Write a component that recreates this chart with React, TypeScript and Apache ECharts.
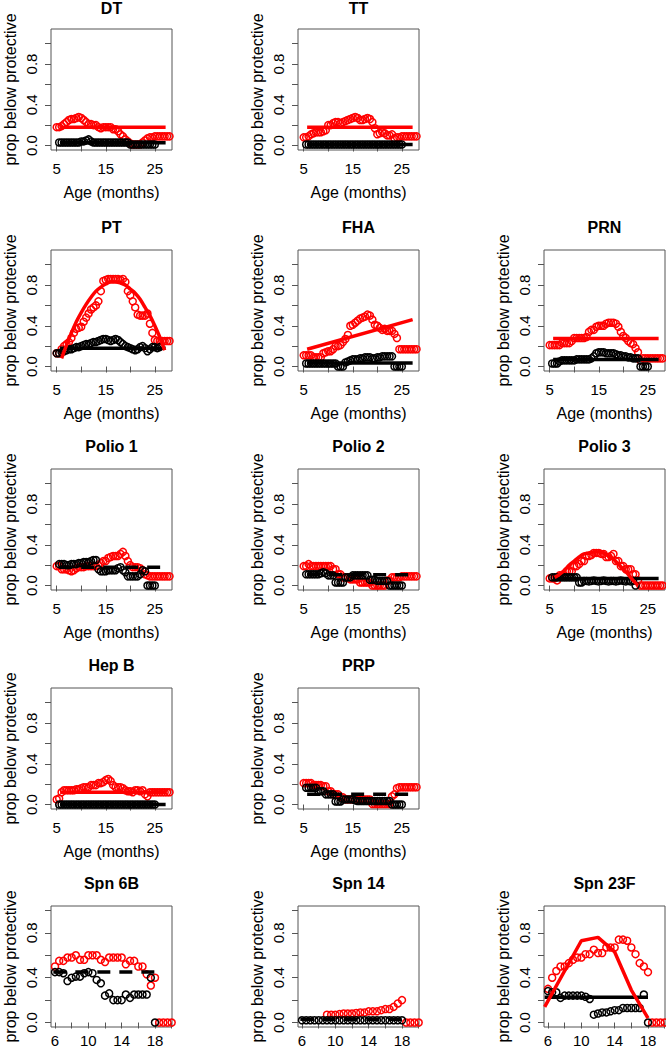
import React, { useEffect, useRef } from "react";
import * as echarts from "echarts";

const _ = null;

// Age grids (months) at which the running proportions were read
const AGES = [5, 5.5, 6, 6.5, 7, 7.5, 8, 8.5, 9, 9.5, 10, 10.5, 11, 11.5, 12, 12.5, 13, 13.5, 14, 14.5, 15, 15.5, 16, 16.5, 17, 17.5, 18, 18.5, 19, 19.5, 20, 20.5, 21, 21.5, 22, 22.5, 23, 23.5, 24, 24.5, 25, 25.5, 26, 26.5, 27, 27.5, 28];
const SPN_AGES = [5.5, 6, 6.5, 7, 7.5, 8, 8.5, 9, 9.5, 10, 10.5, 11, 11.5, 12, 12.5, 13, 13.5, 14, 14.5, 15, 15.5, 16, 16.5, 17, 17.5, 18, 18.5, 19, 19.5, 20];

// Tick values
const AGE_TICKS = [5, 10, 15, 20, 25];
const AGE_LABELS = [5, 15, 25];
const SPN_TICKS = [6, 8, 10, 12, 14, 16, 18, 20];
const SPN_LABELS = [6, 10, 14, 18];
const PROP_TICKS = [0, 0.2, 0.4, 0.6, 0.8, 1.0];
const PROP_LABELS = [0, 0.4, 0.8];

// Panel data (red = one group, black = other group)
const DT_RED = [0.18, 0.18, 0.19, 0.21, 0.23, 0.25, 0.26, 0.26, 0.27, 0.28, 0.27, 0.25, 0.23, 0.21, 0.21, 0.20, 0.20, 0.18, 0.17, 0.18, 0.18, 0.18, 0.18, 0.16, 0.16, 0.14, 0.11, 0.09, 0.06, 0.04, 0.02, 0.01, 0.01, 0.01, 0.01, 0.03, 0.05, 0.07, 0.08, 0.08, 0.09, 0.09, 0.09, 0.09, 0.09, 0.09, 0.09];
const DT_BLACK = [_, 0.03, 0.03, 0.03, 0.03, 0.03, 0.03, 0.03, 0.03, 0.03, 0.04, 0.04, 0.05, 0.06, 0.04, 0.03, 0.03, 0.03, 0.03, 0.03, 0.03, 0.03, 0.03, 0.03, 0.03, 0.03, 0.03, 0.03, 0.03, 0.03, 0.01, 0.01, 0.01, 0.01, 0.01, 0.01, 0.01, 0.01, 0.01, 0.01, 0.01, _, _, _, _, _, _];
const TT_RED = [0.08, 0.08, 0.09, 0.11, 0.12, 0.13, 0.13, 0.13, 0.14, 0.15, 0.20, 0.20, 0.22, 0.23, 0.23, 0.22, 0.23, 0.24, 0.25, 0.26, 0.27, 0.28, 0.27, 0.25, 0.25, 0.26, 0.27, 0.26, 0.23, 0.17, 0.11, 0.12, 0.13, 0.12, 0.10, 0.10, 0.11, 0.07, 0.08, 0.08, 0.09, 0.09, 0.09, 0.09, 0.09, 0.09, 0.09];
const TT_BLACK = [_, 0.01, 0.01, 0.01, 0.01, 0.01, 0.01, 0.01, 0.01, 0.01, 0.01, 0.01, 0.01, 0.01, 0.01, 0.01, 0.01, 0.01, 0.01, 0.01, 0.01, 0.01, 0.01, 0.01, 0.01, 0.01, 0.01, 0.01, 0.01, 0.01, 0.01, 0.01, 0.01, 0.01, 0.01, 0.01, 0.01, 0.01, 0.01, 0.01, 0.01, _, _, _, _, _, _];
const PT_RED = [0.13, 0.13, 0.17, 0.20, 0.22, 0.24, 0.28, 0.33, 0.37, 0.38, 0.39, 0.44, 0.48, 0.52, 0.56, 0.58, 0.60, 0.64, 0.74, 0.84, 0.85, 0.86, 0.86, 0.86, 0.86, 0.86, 0.85, 0.86, 0.83, 0.74, 0.70, 0.64, 0.58, 0.51, 0.50, 0.50, 0.50, 0.52, 0.42, 0.33, 0.26, 0.25, 0.25, 0.25, 0.25, 0.25, 0.25];
const PT_BLACK = [0.13, 0.13, 0.14, 0.15, 0.16, 0.17, 0.17, 0.18, 0.19, 0.19, 0.20, 0.21, 0.22, 0.22, 0.23, 0.24, 0.24, 0.25, 0.26, 0.27, 0.27, 0.26, 0.25, 0.26, 0.27, 0.26, 0.24, 0.22, 0.20, 0.19, 0.18, 0.17, 0.16, 0.17, 0.19, 0.20, 0.18, 0.15, 0.17, 0.19, 0.19, 0.18, 0.19, _, _, _, _];
const FHA_RED = [0.11, 0.11, 0.11, 0.11, 0.09, 0.09, 0.09, 0.09, 0.13, 0.14, 0.15, 0.15, 0.17, 0.20, 0.20, 0.21, 0.24, 0.27, 0.31, 0.40, 0.41, 0.43, 0.45, 0.47, 0.48, 0.49, 0.51, 0.50, 0.46, 0.41, 0.40, 0.38, 0.36, 0.37, 0.35, 0.35, 0.35, 0.32, 0.28, 0.17, 0.17, 0.17, 0.17, 0.17, 0.17, 0.17, 0.17];
const FHA_BLACK = [_, 0.03, 0.03, 0.03, 0.03, 0.03, 0.03, 0.03, 0.03, 0.03, 0.03, 0.03, 0.03, 0.03, 0.0, 0.0, 0.0, 0.04, 0.05, 0.06, 0.07, 0.07, 0.07, 0.08, 0.08, 0.09, 0.09, 0.09, 0.08, 0.08, 0.09, 0.09, 0.10, 0.10, 0.10, 0.10, 0.10, 0.0, 0.0, 0.0, 0.0, _, _, _, _, _, _];
const PRN_RED = [0.21, 0.21, 0.21, 0.21, 0.21, 0.23, 0.23, 0.23, 0.23, 0.25, 0.28, 0.28, 0.28, 0.28, 0.28, 0.29, 0.34, 0.36, 0.36, 0.39, 0.40, 0.40, 0.40, 0.42, 0.43, 0.43, 0.43, 0.42, 0.39, 0.34, 0.30, 0.28, 0.25, 0.23, 0.22, 0.18, 0.14, 0.06, 0.08, 0.08, 0.08, 0.08, 0.08, 0.08, 0.08, 0.08, 0.08];
const PRN_BLACK = [_, 0.03, 0.03, 0.03, 0.05, 0.06, 0.06, 0.06, 0.06, 0.06, 0.06, 0.07, 0.07, 0.07, 0.07, 0.07, 0.07, 0.08, 0.10, 0.13, 0.14, 0.14, 0.14, 0.13, 0.13, 0.13, 0.13, 0.12, 0.11, 0.11, 0.10, 0.10, 0.09, 0.09, 0.08, 0.08, 0.08, 0.0, 0.0, 0.0, 0.0, _, _, _, _, _, _];
const POLIO1_RED = [0.19, 0.19, 0.16, 0.16, 0.16, 0.15, 0.14, 0.15, 0.17, 0.18, 0.18, 0.18, 0.19, 0.19, 0.19, 0.19, 0.19, 0.20, 0.22, 0.24, 0.24, 0.27, 0.28, 0.29, 0.29, 0.29, 0.31, 0.33, 0.29, 0.24, 0.20, 0.18, 0.18, 0.18, 0.17, 0.15, 0.11, 0.10, 0.09, 0.09, 0.09, 0.09, 0.09, 0.09, 0.09, 0.09, 0.09];
const POLIO1_BLACK = [_, 0.21, 0.21, 0.21, 0.20, 0.20, 0.21, 0.21, 0.21, 0.22, 0.22, 0.23, 0.23, 0.23, 0.24, 0.25, 0.25, 0.16, 0.14, 0.14, 0.14, 0.15, 0.15, 0.15, 0.15, 0.17, 0.18, 0.15, 0.13, 0.09, 0.09, 0.09, 0.09, 0.09, 0.11, 0.15, 0.14, 0.0, 0.0, 0.0, 0.0, _, _, _, _, _, _];
const POLIO2_RED = [0.19, 0.19, 0.21, 0.19, 0.19, 0.19, 0.19, 0.19, 0.19, 0.19, 0.19, 0.19, 0.16, 0.16, 0.11, 0.11, 0.08, 0.08, 0.08, 0.06, 0.06, 0.06, 0.06, 0.03, 0.03, 0.03, 0.03, 0.03, 0.0, 0.0, 0.0, 0.0, 0.0, 0.0, 0.05, 0.05, 0.08, 0.08, 0.08, 0.08, 0.09, 0.09, 0.09, 0.09, 0.09, 0.09, 0.09];
const POLIO2_BLACK = [_, 0.11, 0.11, 0.11, 0.11, 0.11, 0.11, 0.12, 0.13, 0.12, 0.10, 0.10, 0.10, 0.03, 0.03, 0.03, 0.03, 0.08, 0.08, 0.08, 0.10, 0.10, 0.10, 0.10, 0.10, 0.10, 0.10, 0.055, 0.055, 0.055, 0.045, 0.045, 0.045, 0.045, 0.045, 0.0, 0.0, 0.0, 0.0, 0.0, 0.0, _, _, _, _, _, _];
const POLIO3_RED = [0.07, 0.07, 0.07, 0.05, 0.10, 0.10, 0.10, 0.14, 0.14, 0.14, 0.19, 0.19, 0.21, 0.24, 0.24, 0.29, 0.29, 0.30, 0.32, 0.32, 0.32, 0.31, 0.31, 0.28, 0.28, 0.29, 0.31, 0.24, 0.24, 0.19, 0.19, 0.16, 0.16, 0.16, 0.11, 0.11, 0.05, 0.0, 0.0, 0.0, 0.0, 0.0, 0.0, 0.0, 0.0, 0.0, 0.0];
const POLIO3_BLACK = [_, 0.08, 0.08, 0.08, 0.08, 0.08, 0.08, 0.08, 0.08, 0.08, 0.08, 0.08, 0.03, 0.03, 0.045, 0.045, 0.04, 0.045, 0.05, 0.045, 0.04, 0.045, 0.05, 0.045, 0.04, 0.045, 0.045, 0.04, 0.045, 0.05, 0.045, 0.04, 0.045, 0.04, 0.045, 0.0, _, _, _, _, _, _, _, _, _, _, _];
const HEPB_RED = [0.05, 0.06, 0.12, 0.14, 0.14, 0.14, 0.14, 0.14, 0.15, 0.15, 0.16, 0.17, 0.17, 0.17, 0.19, 0.19, 0.19, 0.21, 0.21, 0.22, 0.24, 0.25, 0.23, 0.19, 0.17, 0.17, 0.17, 0.16, 0.14, 0.13, 0.13, 0.12, 0.14, 0.14, 0.13, 0.14, 0.10, 0.08, 0.12, 0.12, 0.12, 0.12, 0.12, 0.12, 0.12, 0.12, 0.12];
const HEPB_BLACK = [_, 0, 0, 0, 0, 0, 0, 0, 0, 0, 0, 0, 0, 0, 0, 0, 0, 0, 0, 0, 0, 0, 0, 0, 0, 0, 0, 0, 0, 0, 0, 0, 0, 0, 0, 0, 0, 0, 0, 0, 0, _, _, _, _, _, _];
const PRP_RED = [0.21, 0.21, 0.21, 0.21, 0.19, 0.19, 0.19, 0.19, 0.18, 0.18, 0.13, 0.13, 0.10, 0.10, 0.10, 0.07, 0.07, 0.05, 0.05, 0.05, 0.05, 0.05, 0.05, 0.05, 0.05, 0.05, 0.05, 0.05, 0.005, 0.005, 0.005, 0.005, 0.005, 0.005, 0.005, 0.005, 0.08, 0.10, 0.16, 0.17, 0.17, 0.17, 0.17, 0.17, 0.17, 0.17, 0.17];
const PRP_BLACK = [_, 0.165, 0.165, 0.165, 0.165, 0.165, 0.13, 0.13, 0.13, 0.10, 0.10, 0.10, 0.10, 0.03, 0.03, 0.03, 0.05, 0.05, 0.05, 0.05, 0.05, 0.04, 0.035, 0.035, 0.035, 0.035, 0.035, 0.035, 0.035, 0.035, 0.035, 0.035, 0.035, 0.035, 0.035, 0.035, 0.0, 0.0, 0.0, 0.0, 0.0, _, _, _, _, _, _];
const SPN6B_RED = [0.43, 0.50, 0.55, 0.55, 0.58, 0.58, 0.60, 0.56, 0.56, 0.60, 0.60, 0.60, 0.56, 0.54, 0.58, 0.58, 0.58, 0.58, 0.52, 0.55, 0.55, 0.50, 0.50, 0.43, 0.33, 0.40, 0.0, 0.0, 0.0, 0.0];
const SPN6B_BLACK = [_, 0.45, 0.45, 0.44, 0.37, 0.40, 0.41, 0.41, 0.44, 0.45, 0.44, 0.38, 0.35, 0.24, 0.26, 0.20, 0.20, 0.20, 0.25, 0.22, 0.25, 0.25, 0.25, 0.25, 0.40, 0.0, _, _, _, _];
const SPN14_RED = [_, _, _, _, _, _, _, 0.07, 0.07, 0.07, 0.075, 0.08, 0.08, 0.08, 0.085, 0.09, 0.09, 0.10, 0.10, 0.10, 0.11, 0.12, 0.12, 0.14, 0.17, 0.20, 0.0, 0.0, 0.0, 0.0];
const SPN14_BLACK = [_, 0.02, 0.02, 0.02, 0.02, 0.02, 0.02, 0.02, 0.02, 0.02, 0.02, 0.02, 0.02, 0.02, 0.02, 0.02, 0.02, 0.02, 0.02, 0.02, 0.02, 0.02, 0.02, 0.02, 0.02, 0.02, _, _, _, _];
const SPN23F_RED = [0.14, 0.30, 0.40, 0.46, 0.50, 0.50, 0.53, 0.56, 0.58, 0.58, 0.61, 0.61, 0.65, 0.62, 0.62, 0.67, 0.67, 0.67, 0.74, 0.74, 0.73, 0.67, 0.61, 0.53, 0.50, 0.45, 0.0, 0.0, 0.0, 0.0];
const SPN23F_BLACK = [0.26, 0.28, 0.27, 0.27, 0.22, 0.24, 0.24, 0.24, 0.24, 0.24, 0.23, 0.21, 0.07, 0.08, 0.09, 0.09, 0.10, 0.11, 0.11, 0.13, 0.13, 0.13, 0.13, 0.13, 0.25, 0.0, _, _, _, _];

// Fitted curves
const FIT_SPAN = [5.7, 27.2];
const POLIO_FIT_SPAN = [5.5, 27];
const SPN_FIT_SPAN = [5.8, 18.4];
const SPN23F_BLACK_SPAN = [5.6, 18];
const DT_RED_FIT = [0.18, 0.18];
const DT_BLACK_FIT = [0.026, 0.026];
const TT_RED_FIT = [0.18, 0.18];
const TT_BLACK_FIT = [0.01, 0.01];
const PT_FIT_AGES = [6, 7, 8, 9, 10, 11, 12, 13, 14, 15, 16, 17, 18, 19, 20, 21, 22, 23, 24, 25, 26, 27];
const PT_RED_FIT = [0.08, 0.21, 0.33, 0.44, 0.53, 0.61, 0.68, 0.74, 0.78, 0.81, 0.83, 0.83, 0.82, 0.80, 0.76, 0.72, 0.66, 0.58, 0.50, 0.40, 0.29, 0.16];
const PT_BLACK_FIT = [0.18, 0.18];
const FHA_RED_FIT = [0.17, 0.46];
const FHA_BLACK_FIT = [0.035, 0.035];
const PRN_RED_FIT = [0.275, 0.275];
const PRN_BLACK_FIT = [0.07, 0.07];
const POLIO1_BLACK_FIT = [0.18, 0.18];
const POLIO2_BLACK_FIT = [0.105, 0.105];
const POLIO3_FIT_AGES = [6, 7, 8, 9, 10, 11, 12, 13, 14, 15, 16, 17, 18, 19, 20, 21, 22, 23];
const POLIO3_RED_FIT = [0.08, 0.11, 0.15, 0.20, 0.24, 0.28, 0.31, 0.32, 0.33, 0.33, 0.32, 0.29, 0.26, 0.21, 0.16, 0.11, 0.05, 0.0];
const POLIO3_BLACK_FIT = [0.07, 0.07];
const HEPB_RED_FIT = [0.12, 0.12];
const HEPB_BLACK_FIT = [0.0, 0.0];
const PRP_BLACK_FIT = [0.1, 0.1];
const SPN6B_BLACK_FIT = [0.45, 0.45];
const SPN14_BLACK_FIT = [0.03, 0.03];
const SPN23F_FIT_AGES = [5.6, 10, 12, 14, 16, 18];
const SPN23F_RED_FIT = [0.14, 0.73, 0.76, 0.63, 0.29, 0.04];
const SPN23F_BLACK_FIT = [0.225, 0.225];

const RED = "#ff0000";
const BLACK = "#000000";
const FONT = '"Liberation Sans", Arial, Helvetica, sans-serif';

type Fit = { x: number[]; y: number[]; color: string; dashed?: boolean; smooth?: boolean };
type Panel = { title: string; col: number; row: number; spn: boolean; red: (number | null)[]; black: (number | null)[]; fits: Fit[] };

const PANELS: Panel[] = [
  { title: "DT", col: 0, row: 0, spn: false, red: DT_RED, black: DT_BLACK, fits: [{ x: FIT_SPAN, y: DT_BLACK_FIT, color: BLACK }, { x: FIT_SPAN, y: DT_RED_FIT, color: RED }] },
  { title: "TT", col: 1, row: 0, spn: false, red: TT_RED, black: TT_BLACK, fits: [{ x: FIT_SPAN, y: TT_BLACK_FIT, color: BLACK }, { x: FIT_SPAN, y: TT_RED_FIT, color: RED }] },
  { title: "PT", col: 0, row: 1, spn: false, red: PT_RED, black: PT_BLACK, fits: [{ x: FIT_SPAN, y: PT_BLACK_FIT, color: BLACK }, { x: PT_FIT_AGES, y: PT_RED_FIT, color: RED, smooth: true }] },
  { title: "FHA", col: 1, row: 1, spn: false, red: FHA_RED, black: FHA_BLACK, fits: [{ x: FIT_SPAN, y: FHA_BLACK_FIT, color: BLACK }, { x: FIT_SPAN, y: FHA_RED_FIT, color: RED }] },
  { title: "PRN", col: 2, row: 1, spn: false, red: PRN_RED, black: PRN_BLACK, fits: [{ x: FIT_SPAN, y: PRN_BLACK_FIT, color: BLACK }, { x: FIT_SPAN, y: PRN_RED_FIT, color: RED }] },
  { title: "Polio 1", col: 0, row: 2, spn: false, red: POLIO1_RED, black: POLIO1_BLACK, fits: [{ x: POLIO_FIT_SPAN, y: POLIO1_BLACK_FIT, color: BLACK, dashed: true }] },
  { title: "Polio 2", col: 1, row: 2, spn: false, red: POLIO2_RED, black: POLIO2_BLACK, fits: [{ x: FIT_SPAN, y: POLIO2_BLACK_FIT, color: BLACK, dashed: true }] },
  { title: "Polio 3", col: 2, row: 2, spn: false, red: POLIO3_RED, black: POLIO3_BLACK, fits: [{ x: FIT_SPAN, y: POLIO3_BLACK_FIT, color: BLACK }, { x: POLIO3_FIT_AGES, y: POLIO3_RED_FIT, color: RED, smooth: true }] },
  { title: "Hep B", col: 0, row: 3, spn: false, red: HEPB_RED, black: HEPB_BLACK, fits: [{ x: FIT_SPAN, y: HEPB_BLACK_FIT, color: BLACK }, { x: FIT_SPAN, y: HEPB_RED_FIT, color: RED }] },
  { title: "PRP", col: 1, row: 3, spn: false, red: PRP_RED, black: PRP_BLACK, fits: [{ x: FIT_SPAN, y: PRP_BLACK_FIT, color: BLACK, dashed: true }] },
  { title: "Spn 6B", col: 0, row: 4, spn: true, red: SPN6B_RED, black: SPN6B_BLACK, fits: [{ x: SPN_FIT_SPAN, y: SPN6B_BLACK_FIT, color: BLACK, dashed: true }] },
  { title: "Spn 14", col: 1, row: 4, spn: true, red: SPN14_RED, black: SPN14_BLACK, fits: [{ x: SPN_FIT_SPAN, y: SPN14_BLACK_FIT, color: BLACK, dashed: true }] },
  { title: "Spn 23F", col: 2, row: 4, spn: true, red: SPN23F_RED, black: SPN23F_BLACK, fits: [{ x: SPN23F_BLACK_SPAN, y: SPN23F_BLACK_FIT, color: BLACK }, { x: SPN23F_FIT_AGES, y: SPN23F_RED_FIT, color: RED }] },
];

const COL_LEFT = [51, 298, 544];
const ROW_TOP = [29, 250, 469, 688, 906];
const BOX = 121;

function pairs(xs: number[], ys: (number | null)[]) {
  const out: number[][] = [];
  ys.forEach((v, i) => {
    if (v !== null && v !== undefined) out.push([xs[i], v]);
  });
  return out;
}

function buildOption() {
  const grid = PANELS.map((p) => ({
    left: COL_LEFT[p.col],
    top: ROW_TOP[p.row],
    width: BOX,
    height: BOX,
    show: true,
    borderColor: "#555",
    borderWidth: 1,
    backgroundColor: "transparent",
    containLabel: false,
    outerBoundsMode: "none",
  }));
  const xAxis = PANELS.map((p, i) => ({
    type: "value",
    gridIndex: i,
    min: p.spn ? 5.52 : 3.84,
    max: p.spn ? 20.04 : 28.5,
    axisLine: { show: false },
    splitLine: { show: false },
    axisTick: { show: true, inside: false, length: 6, lineStyle: { color: "#555", width: 1 }, customValues: p.spn ? SPN_TICKS : AGE_TICKS },
    axisLabel: { customValues: p.spn ? SPN_LABELS : AGE_LABELS, margin: p.spn ? 6 : 11, fontSize: 15, color: "#000", fontFamily: FONT },
    name: p.spn ? "" : "Age (months)",
    nameLocation: "middle",
    nameGap: 34,
    nameTextStyle: { fontSize: 16, color: "#000", fontFamily: FONT },
  }));
  const yAxis = PANELS.map((p, i) => ({
    type: "value",
    gridIndex: i,
    min: p.spn ? -0.04 : -0.044,
    max: p.spn ? 1.04 : 1.144,
    axisLine: { show: false },
    splitLine: { show: false },
    axisTick: { show: true, inside: false, length: 6, lineStyle: { color: "#555", width: 1 }, customValues: PROP_TICKS },
    axisLabel: {
      customValues: PROP_LABELS,
      rotate: 90,
      margin: 12,
      fontSize: 15,
      color: "#000",
      fontFamily: FONT,
      formatter: (v: number) => v.toFixed(1),
    },
    name: "prop below protective",
    nameLocation: "middle",
    nameRotate: 90,
    nameGap: 33,
    nameTextStyle: { fontSize: 16, color: "#000", fontFamily: FONT },
  }));
  const series: any[] = [];
  PANELS.forEach((p, i) => {
    const xs = p.spn ? SPN_AGES : AGES;
    const scatter = (data: number[][], color: string) => ({
      type: "scatter",
      xAxisIndex: i,
      yAxisIndex: i,
      data,
      symbol: "circle",
      symbolSize: 7,
      silent: true,
      itemStyle: { color: "rgba(0,0,0,0)", borderColor: color, borderWidth: 1.5, opacity: 1 },
      z: 2,
    });
    series.push(scatter(pairs(xs, p.red), RED));
    series.push(scatter(pairs(xs, p.black), BLACK));
    p.fits.forEach((f) => {
      series.push({
        type: "line",
        xAxisIndex: i,
        yAxisIndex: i,
        data: f.x.map((x, k) => [x, f.y[k]]),
        showSymbol: false,
        symbol: "none",
        smooth: f.smooth ? 0.35 : false,
        silent: true,
        lineStyle: { color: f.color, width: 3.5, type: f.dashed ? [13, 9] : "solid", cap: "butt" },
        z: 3,
      });
    });
  });
  const graphic = PANELS.map((p) => ({
    type: "text",
    silent: true,
    style: {
      text: p.title,
      x: COL_LEFT[p.col] + BOX / 2,
      y: p.row === 0 ? 0 : ROW_TOP[p.row] - 23,
      textAlign: "center",
      textVerticalAlign: p.row === 0 ? "top" : "middle",
      font: `bold 16px ${FONT}`,
      fill: "#000",
    },
  }));
  return { animation: false, backgroundColor: "#ffffff", grid, xAxis, yAxis, series, graphic };
}

export default function App() {
  const ref = useRef<HTMLDivElement>(null);
  useEffect(() => {
    if (!ref.current) return;
    const chart = echarts.init(ref.current, undefined, { renderer: "svg" });
    chart.setOption(buildOption() as any);
    return () => chart.dispose();
  }, []);
  return <div ref={ref} style={{ position: "absolute", left: 0, top: 0, width: 666, height: 1050, background: "#fff" }} />;
}
